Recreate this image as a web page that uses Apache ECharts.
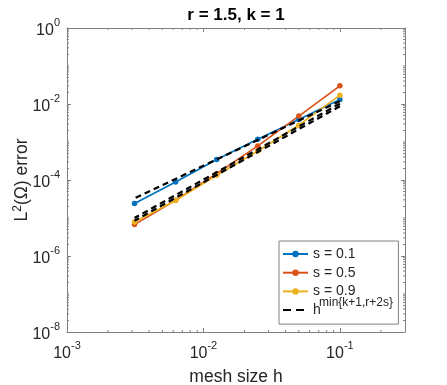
<!DOCTYPE html>
<html><head><meta charset="utf-8">
<script src="https://cdn.jsdelivr.net/npm/echarts@6/dist/echarts.min.js"></script>
<style>html,body{margin:0;padding:0;background:#fff}#c{width:447px;height:385px}</style>
</head><body><div id="c"></div>
<script>
// mesh sizes
var h = [0.1, 0.05, 0.025, 0.0125, 0.00625, 0.003125];
// errors
var errS01 = [1.32e-2, 3.9e-3, 1.18e-3, 3.46e-4, 8.9e-5, 2.4e-5];
var errS05 = [3.0e-2, 4.8e-3, 7.9e-4, 1.47e-4, 2.93e-5, 6.7e-6];
var errS09 = [1.71e-2, 2.77e-3, 5.8e-4, 1.33e-4, 2.9e-5, 7.8e-6];
// reference rate lines h^{min{k+1,r+2s}}
var refS01 = [1.19e-2, 3.67e-3, 1.13e-3, 3.48e-4, 1.07e-4, 3.3e-5];
var refS05 = [1.02e-2, 2.56e-3, 6.4e-4, 1.6e-4, 4.0e-5, 1.0e-5];
var refS09 = [8.7e-3, 2.18e-3, 5.44e-4, 1.36e-4, 3.4e-5, 8.5e-6];
var seriesNames = ['s = 0.1', 's = 0.5', 's = 0.9'];
var refName = 'h';
var refSup = 'min{k+1,r+2s}';
var titleText = 'r = 1.5, k = 1';
var xLabel = 'mesh size h';
var yLabel = 'L{sup|2}(Ω) error';
var xMin = 1e-3, xMax = 0.3, yMin = 1e-8, yMax = 1;

var colors = ['#0072BD', '#D95319', '#EDB120'];
var txt = '#262626', axc = '#808080';
var font = 'Liberation Sans';

function pairs(ys){ return h.map(function(x,i){ return [x, ys[i]]; }); }

// minor tick positions (placed by the library scales)
var minorX = [], minorY = [];
for (var e = -3; e <= -1; e++) for (var k = 2; k <= 9; k++) { var v = k*Math.pow(10,e); if (v < xMax) minorX.push(v); }
for (var e2 = -8; e2 <= -1; e2++) for (var k2 = 2; k2 <= 9; k2++) minorY.push(k2*Math.pow(10,e2));
for (var e3 = -7; e3 <= -1; e3 += 2) minorY.push(Math.pow(10,e3));

var tickRich = {
  b: { fontSize: 16, verticalAlign: 'bottom', padding: [6,0,0,0], color: txt, fontFamily: font },
  sup: { fontSize: 11, verticalAlign: 'top', color: txt, fontFamily: font }
};
function fmt(v){ var p = Math.round(Math.log10(v)); return '{b|10}{sup|' + p + '}'; }

var chart = echarts.init(document.getElementById('c'), null, {renderer:'canvas'});
var tickData = [];
minorX.forEach(function(v){ tickData.push([v, yMin, 0]); });
minorY.forEach(function(v){ tickData.push([xMin, v, 1]); });

function axisBase(){
  return {
    type: 'log', logBase: 10,
    axisLine: { show: true, lineStyle: { color: axc, width: 1 } },
    axisTick: { show: true, inside: true, length: 4, lineStyle: { color: axc } },
    splitLine: { show: false },
    minorTick: { show: false },
    nameMoveOverlap: false
  };
}
var x0 = Object.assign(axisBase(), { position: 'bottom', min: xMin, max: xMax, interval: 1,
  axisLabel: { formatter: fmt, showMaxLabel: false, showMinLabel: true, color: txt, fontSize: 16, fontFamily: font, margin: 8, rich: tickRich },
  name: xLabel, nameLocation: 'middle', nameGap: 36, nameTextStyle: { color: txt, fontSize: 17.5, fontFamily: font } });
var x1 = Object.assign(axisBase(), { position: 'top', min: xMin, max: xMax, interval: 1, axisLabel: { show: false } });
var y0 = Object.assign(axisBase(), { position: 'left', min: yMin, max: yMax, interval: 2,
  axisLabel: { formatter: fmt, color: txt, fontSize: 16, fontFamily: font, margin: 7, rich: tickRich },
  name: yLabel, nameLocation: 'middle', nameGap: 34, nameRotate: 90,
  nameTextStyle: { color: txt, fontSize: 17.5, fontFamily: font,
    rich: { sup: { fontSize: 12, verticalAlign: 'bottom', padding: [0,0,9,0], color: txt, fontFamily: font } } } });
var y1 = Object.assign(axisBase(), { position: 'right', min: yMin, max: yMax, interval: 2, axisLabel: { show: false } });

function dataSeries(name, ys, c){
  return { name: name, type: 'line', data: pairs(ys), xAxisIndex: 0, yAxisIndex: 0,
    symbol: 'circle', symbolSize: 5.5, showSymbol: true,
    lineStyle: { color: c, width: 1.7 }, itemStyle: { color: c }, emphasis: { disabled: true },
    animation: false, z: 3 };
}
function refSeries(name, ys){
  return { name: name, type: 'line', data: pairs(ys), xAxisIndex: 0, yAxisIndex: 0,
    symbol: 'none', lineStyle: { color: '#000', width: 2.2, type: [6, 4] }, itemStyle: { color: '#000' },
    emphasis: { disabled: true }, animation: false, z: 4 };
}

var legLeft = 279, legTop = 241;
var option = {
  backgroundColor: '#fff',
  animation: false,
  title: { text: titleText, left: 236, top: 7, textAlign: 'center', padding: 0,
    textStyle: { color: '#000', fontSize: 17, fontWeight: 'bold', fontFamily: font } },
  grid: { left: 67, top: 28, right: 42, bottom: 53, containLabel: false, outerBoundsMode: 'none' },
  xAxis: [x0, x1],
  yAxis: [y0, y1],
  legend: {
    data: [
      { name: seriesNames[0] }, { name: seriesNames[1] }, { name: seriesNames[2] },
      { name: refName, itemStyle: { color: 'rgba(0,0,0,0)', borderColor: 'rgba(0,0,0,0)', borderWidth: 0 },
        lineStyle: { type: [8, 5], width: 2, color: '#000' } }
    ],
    orient: 'vertical', left: legLeft, top: legTop,
    itemWidth: 25, itemHeight: 8, itemGap: 4.7,
    padding: [6, 43, 7, 3],
    backgroundColor: '#fff', borderColor: axc, borderWidth: 1, borderRadius: 0,
    textStyle: { color: txt, fontSize: 14, fontFamily: font },
    selectedMode: false
  },
  graphic: [
    { type: 'text', left: 319, top: 297, z: 100,
      style: { text: refSup, fontSize: 12, fontFamily: font, fill: txt } }
  ],
  series: [
    dataSeries(seriesNames[0], errS01, colors[0]),
    dataSeries(seriesNames[1], errS05, colors[1]),
    dataSeries(seriesNames[2], errS09, colors[2]),
    refSeries(refName, refS01),
    refSeries(refName, refS05),
    refSeries(refName, refS09),
    { type: 'custom', xAxisIndex: 0, yAxisIndex: 0, data: tickData, silent: true, z: 5,
      renderItem: function(params, api){
        var kind = api.value(2);
        var L = 2;
        if (kind === 0) {
          var pb = api.coord([api.value(0), yMin]);
          var pt = api.coord([api.value(0), yMax]);
          return { type: 'group', children: [
            { type: 'line', shape: { x1: pb[0], y1: pb[1], x2: pb[0], y2: pb[1]-L }, style: { stroke: axc, lineWidth: 1 } },
            { type: 'line', shape: { x1: pt[0], y1: pt[1], x2: pt[0], y2: pt[1]+L }, style: { stroke: axc, lineWidth: 1 } } ] };
        } else {
          var pl = api.coord([xMin, api.value(1)]);
          var pr = api.coord([xMax, api.value(1)]);
          return { type: 'group', children: [
            { type: 'line', shape: { x1: pl[0], y1: pl[1], x2: pl[0]+L, y2: pl[1] }, style: { stroke: axc, lineWidth: 1 } },
            { type: 'line', shape: { x1: pr[0], y1: pr[1], x2: pr[0]-L, y2: pr[1] }, style: { stroke: axc, lineWidth: 1 } } ] };
        }
      }
    }
  ]
};
chart.setOption(option);
</script>
</body></html>
